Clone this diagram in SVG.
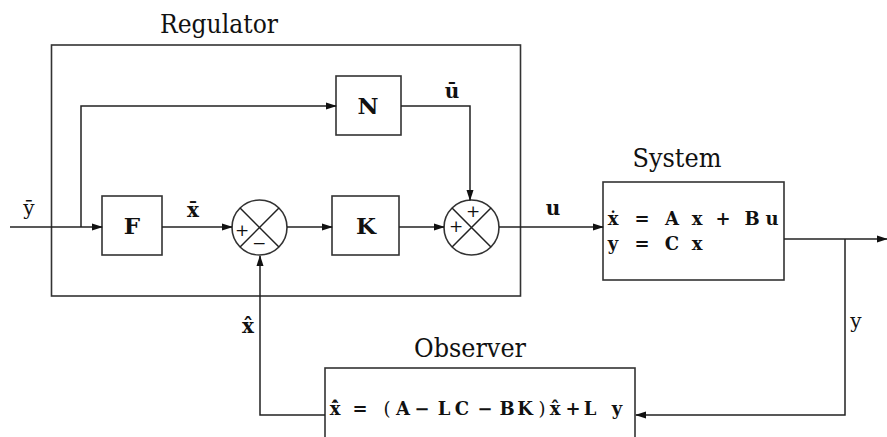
<svg xmlns="http://www.w3.org/2000/svg" width="887" height="437" viewBox="0 0 887 437">
<defs>
<marker id="arr" markerWidth="11" markerHeight="8" refX="10" refY="4" orient="auto" markerUnits="userSpaceOnUse"><path d="M0,0.5 L11,4 L0,7.5 z" fill="#111"/></marker>
<style>
.box{fill:#fff;stroke:#333;stroke-width:1.6}
.frame{fill:none;stroke:#333;stroke-width:1.6}
.ln{fill:none;stroke:#222;stroke-width:1.5}
.arr{marker-end:url(#arr)}
text{font-family:'DejaVu Serif',serif;fill:#111}
.title{font-size:26px;text-anchor:middle}
.blk{font-size:23px;font-weight:bold;text-anchor:middle}
.eq{font-size:18px;font-weight:bold;text-anchor:middle}
.lbl{font-size:20px;text-anchor:middle}
.b{font-weight:bold}
.sg{font-size:17px;text-anchor:middle}
</style>
</defs>
<rect width="887" height="437" fill="#fff"/>
<g id="regulator">
<rect class="frame" x="51.5" y="45" width="469" height="251"/>
<text class="title" x="219" y="33" textLength="118" lengthAdjust="spacingAndGlyphs">Regulator</text>
</g>
<g id="F"><rect class="box" x="102" y="196" width="60" height="59"/><text class="blk" x="132" y="234">F</text></g>
<g id="N"><rect class="box" x="336" y="76" width="65" height="59"/><text class="blk" x="368" y="114">N</text></g>
<g id="K"><rect class="box" x="332" y="196" width="67" height="59"/><text class="blk" x="366" y="234">K</text></g>
<g id="sum1">
<circle class="box" cx="259.5" cy="227.5" r="27.5"/>
<path class="ln" d="M240.05,208.05 L278.95,246.95 M278.95,208.05 L240.05,246.95" stroke-width="1.2"/>
<text class="sg" x="242" y="236">+</text><text class="sg" x="259" y="249">−</text>
</g>
<g id="sum2">
<circle class="box" cx="471.5" cy="227.5" r="27.5"/>
<path class="ln" d="M452.05,208.05 L490.95,246.95 M490.95,208.05 L452.05,246.95" stroke-width="1.2"/>
<text class="sg" x="473" y="217">+</text><text class="sg" x="456" y="232">+</text>
</g>
<g id="system">
<rect class="box" x="603" y="182" width="181" height="98"/>
<text class="title" x="677" y="167" textLength="89" lengthAdjust="spacingAndGlyphs">System</text>
<text class="eq" y="225"><tspan x="613">ẋ</tspan><tspan x="642">=</tspan><tspan x="672">A</tspan><tspan x="697">x</tspan><tspan x="723">+</tspan><tspan x="752">B</tspan><tspan x="772">u</tspan></text>
<text class="eq" y="250"><tspan x="613">y</tspan><tspan x="642">=</tspan><tspan x="672">C</tspan><tspan x="697">x</tspan></text>
</g>
<g id="observer">
<rect class="box" x="325" y="368" width="310" height="80"/>
<text class="title" x="470" y="357" textLength="112" lengthAdjust="spacingAndGlyphs">Observer</text>
<text class="eq" y="415"><tspan x="335">x̂̇</tspan><tspan x="360">=</tspan><tspan x="387" font-weight="normal">(</tspan><tspan x="403">A</tspan><tspan x="422">−</tspan><tspan x="444">L</tspan><tspan x="462">C</tspan><tspan x="485">−</tspan><tspan x="507">B</tspan><tspan x="525">K</tspan><tspan x="542" font-weight="normal">)</tspan><tspan x="555">x̂</tspan><tspan x="573">+</tspan><tspan x="590">L</tspan><tspan x="617">y</tspan></text>
</g>
<g id="connectors">
<path class="ln arr" d="M10,227 L102,227"/>
<path class="ln arr" d="M81,227 L81,106 L336,106"/>
<path class="ln arr" d="M162,227 L232,227"/>
<path class="ln arr" d="M287,227 L332,227"/>
<path class="ln arr" d="M399,227 L444,227"/>
<path class="ln arr" d="M401,106 L470,106 L470,200"/>
<path class="ln arr" d="M499,227 L603,227"/>
<path class="ln arr" d="M784,239 L887,239"/>
<path class="ln arr" d="M845,239 L845,415 L636,415"/>
<path class="ln arr" d="M325,415 L260,415 L260,256"/>
</g>
<g id="labels">
<text class="lbl" x="29" y="215">ȳ</text>
<text class="lbl b" x="193" y="217">x̄</text>
<text class="lbl b" x="452" y="98">ū</text>
<text class="lbl b" x="553" y="215">u</text>
<text class="lbl b" x="248" y="333">x̂</text>
<text class="lbl" x="856" y="328">y</text>
</g>
</svg>
